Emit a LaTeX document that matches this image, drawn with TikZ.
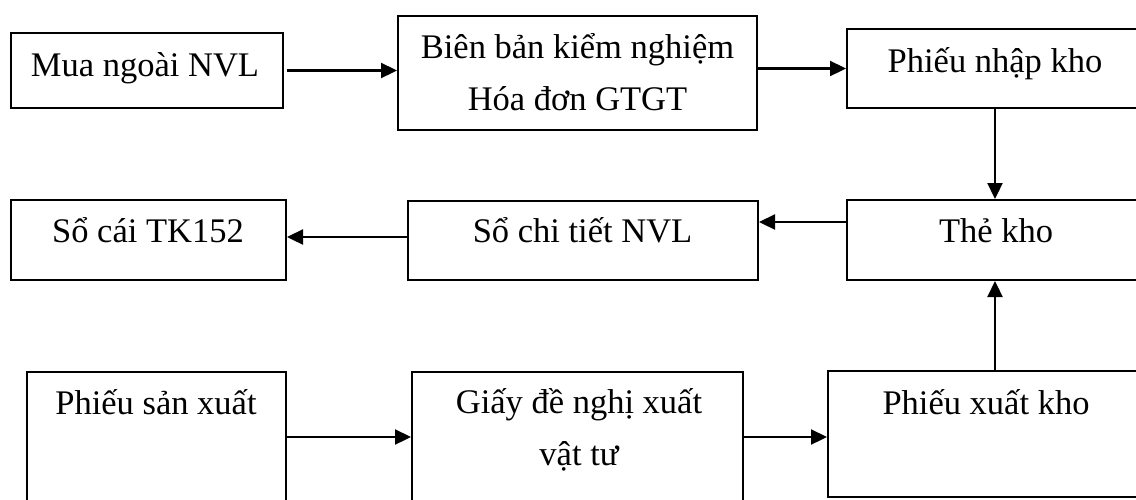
\documentclass[tikz,border=0pt]{standalone}
\usepackage{fontspec}
\setmainfont{Liberation Serif}
\usetikzlibrary{arrows.meta}
\begin{document}
\begin{tikzpicture}[x=1pt,y=-1pt,
  box/.style={draw=black,line width=2pt,rectangle,inner sep=0pt,fill=none},
  txt/.style={anchor=base,inner sep=0pt,font=\fontsize{34.5}{40}\selectfont},
  arr/.style={draw=black,line width=2.3pt,-{Triangle[length=16pt,width=15pt]}},
  ln/.style={draw=black,line width=2.3pt}]
\useasboundingbox (0,0) rectangle (1136,499);
\clip (0,0) rectangle (1136,499);
\fill[white] (0,0) rectangle (1136,499);
% boxes
\node[box,minimum width=272pt,minimum height=75pt]  (b1) at (147,70.5) {};
\node[box,minimum width=359pt,minimum height=114pt] (b2) at (577.5,73) {};
\node[box,minimum width=296pt,minimum height=79pt]  (b3) at (995,68.5) {};
\node[box,minimum width=296pt,minimum height=80pt]  (b4) at (995,240) {};
\node[box,minimum width=350pt,minimum height=79pt]  (b5) at (583,240.5) {};
\node[box,minimum width=275pt,minimum height=80pt]  (b6) at (148.5,240) {};
\node[box,minimum width=259pt,minimum height=148pt] (b7) at (156.5,446) {};
\node[box,minimum width=331pt,minimum height=148pt] (b8) at (577.5,446) {};
\node[box,minimum width=322pt,minimum height=126pt] (b9) at (989,434) {};
% texts
\node[txt] (t1)  at (145,76)    {Mua ngoài NVL};
\node[txt] (t2a) at (577.5,58)  {Biên bản kiểm nghiệm};
\node[txt] (t2b) at (577.5,110) {Hóa đơn GTGT};
\node[txt] (t3)  at (995,72)    {Phiếu nhập kho};
\node[txt] (t4)  at (996,242)   {Thẻ kho};
\node[txt] (t5)  at (582.5,242.5) {Sổ chi tiết NVL};
\node[txt] (t6)  at (148,242.5) {Sổ cái TK152};
\node[txt] (t7)  at (156,414)   {Phiếu sản xuất};
\node[txt] (t8a) at (579,413)   {Giấy đề nghị xuất};
\node[txt] (t8b) at (579,465)   {vật tư};
\node[txt] (t9)  at (986,414)   {Phiếu xuất kho};
% connectors
\draw[arr] ([xshift=3pt]b1.east) -- (b1.east -| b2.west);
\draw[arr] (b2.east |- b3.west) -- (b3.west);
\draw[arr] (b3.south) -- (b4.north);
\draw[arr] ([yshift=18pt]b4.west) -- ([yshift=18pt]b4.west -| b5.east);
\draw[arr] ([yshift=3.5pt]b5.west) -- ([yshift=3.5pt]b5.west -| b6.east);
\draw[arr] ([yshift=9pt]b7.east) -- ([yshift=9pt]b7.east -| b8.west);
\draw[arr] ([yshift=9pt]b8.east) -- ([yshift=9pt]b8.east -| b9.west);
\draw[arr] (b4.south |- b9.north) -- (b4.south);
\end{tikzpicture}
\end{document}
